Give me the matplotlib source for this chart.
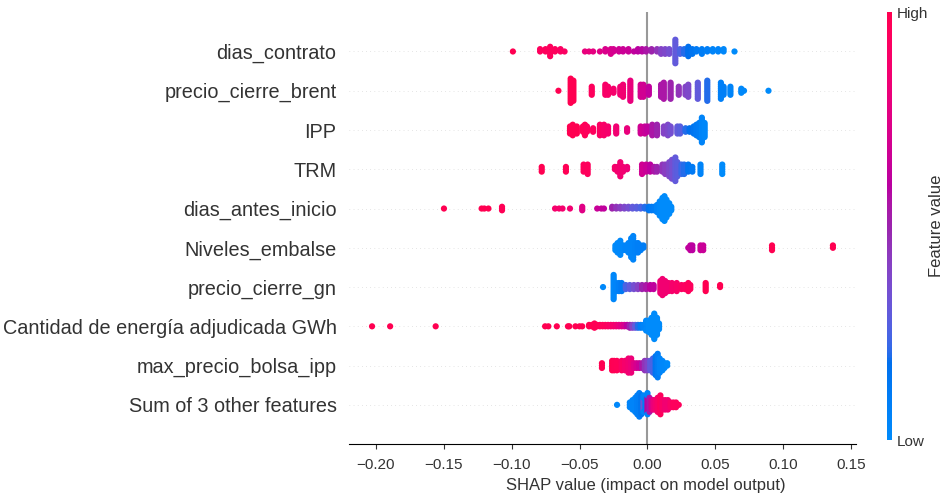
import numpy as np
import matplotlib
matplotlib.use("Agg")
import matplotlib.pyplot as plt
from matplotlib.colors import LinearSegmentedColormap

plt.rcParams["font.family"] = ["Liberation Sans", "DejaVu Sans"]

# ---------------------------------------------------------------------------
# Data: per feature, SHAP value of each group of samples, its (normalised)
# feature value 0 = low .. 1 = high, and how many samples share it.
# Features listed top to bottom as shown.
# ---------------------------------------------------------------------------

features = [
    "dias_contrato",
    "precio_cierre_brent",
    "IPP",
    "TRM",
    "dias_antes_inicio",
    "Niveles_embalse",
    "precio_cierre_gn",
    "Cantidad de energía adjudicada GWh",
    "max_precio_bolsa_ipp",
    "Sum of 3 other features",
]

dias_contrato_shap = [-0.099, -0.079, -0.075, -0.0716, -0.068, -0.064, -0.061, -0.046, -0.043,
                      -0.040, -0.035, -0.031, -0.027, -0.025, -0.021, -0.018, -0.014, -0.010,
                      -0.007, -0.004, -0.001, 0.003, 0.007, 0.010, 0.013, 0.016, 0.0205, 0.024,
                      0.027, 0.030, 0.033, 0.036, 0.040, 0.044, 0.048, 0.052, 0.056, 0.064]
dias_contrato_val = [1.0, 0.95, 0.95, 0.95, 0.95, 0.92, 0.92, 0.8, 0.8,
                     0.78, 0.75, 0.72, 0.72, 0.7, 0.68, 0.66, 0.65, 0.62,
                     0.6, 0.58, 0.55, 0.5, 0.45, 0.4, 0.38, 0.35, 0.3, 0.25,
                     0.2, 0.18, 0.15, 0.12, 0.1, 0.08, 0.05, 0.05, 0.03, 0.0]
dias_contrato_n = [1, 2, 2, 5, 2, 2, 1, 1, 1,
                   1, 1, 2, 3, 2, 2, 2, 2, 1,
                   2, 2, 2, 2, 2, 3, 3, 3, 11, 3,
                   3, 5, 3, 2, 3, 2, 2, 2, 2, 1]

brent_shap = [-0.0655, -0.0565, -0.0545, -0.041, -0.031, -0.029, -0.025, -0.020, -0.018,
              -0.0126, -0.005, -0.003, 0.001, 0.010, 0.012, 0.017, 0.023, 0.028, 0.030,
              0.037, 0.044, 0.054, 0.056, 0.061, 0.069, 0.071, 0.089]
brent_val = [1.0, 1.0, 1.0, 0.95, 0.9, 0.9, 0.88, 0.85, 0.85,
             0.8, 0.7, 0.68, 0.62, 0.55, 0.55, 0.5, 0.45, 0.4, 0.38,
             0.3, 0.2, 0.08, 0.08, 0.05, 0.02, 0.02, 0.0]
brent_n = [1, 13, 11, 5, 6, 5, 3, 5, 7,
           11, 7, 7, 5, 7, 9, 9, 5, 5, 7,
           9, 11, 9, 5, 5, 3, 1, 1]

ipp_shap = [-0.057, -0.055, -0.052, -0.0475, -0.046, -0.0445, -0.040, -0.035, -0.032, -0.029,
            -0.023, -0.015, -0.005, -0.002, 0.000, 0.0035, 0.007, 0.012, 0.015, 0.017,
            0.022, 0.024, 0.028, 0.031, 0.034, 0.036, 0.038, 0.040, 0.042]
ipp_val = [1.0, 1.0, 1.0, 0.97, 0.97, 0.95, 0.95, 0.92, 0.9, 0.88,
           0.85, 0.8, 0.68, 0.65, 0.62, 0.55, 0.5, 0.4, 0.38, 0.35,
           0.3, 0.28, 0.2, 0.18, 0.15, 0.12, 0.1, 0.05, 0.03]
ipp_n = [5, 7, 5, 4, 7, 4, 3, 7, 7, 5,
         5, 3, 5, 5, 4, 7, 7, 5, 7, 5,
         5, 5, 3, 3, 5, 7, 9, 15, 9]

trm_shap = [-0.0778, -0.060, -0.047, -0.044, -0.024, -0.022, -0.020, -0.018, -0.015,
            -0.004, -0.001, 0.002, 0.005, 0.007, 0.011, 0.013, 0.016, 0.018, 0.0205,
            0.022, 0.025, 0.027, 0.030, 0.033, 0.039, 0.055]
trm_val = [1.0, 0.98, 0.95, 0.95, 0.88, 0.87, 0.85, 0.85, 0.83,
           0.68, 0.65, 0.6, 0.55, 0.5, 0.45, 0.42, 0.38, 0.35, 0.3,
           0.28, 0.22, 0.2, 0.15, 0.12, 0.05, 0.0]
trm_n = [3, 3, 4, 5, 2, 3, 7, 3, 2,
         5, 4, 4, 3, 3, 4, 5, 7, 9, 11,
         7, 5, 5, 4, 3, 5, 5]

antes_shap = [-0.1497, -0.122, -0.120, -0.117, -0.107, -0.068, -0.065, -0.0625, -0.057,
              -0.048, -0.037, -0.034, -0.032, -0.026, -0.023, -0.020, -0.017, -0.014,
              -0.011, -0.008, -0.005, -0.002, 0.001, 0.003, 0.005, 0.007, 0.009, 0.011,
              0.0125, 0.014, 0.016, 0.0175]
antes_val = [1.0, 1.0, 1.0, 1.0, 0.98, 0.88, 0.88, 0.87, 0.85,
             0.75, 0.65, 0.63, 0.62, 0.5, 0.45, 0.42, 0.38, 0.35,
             0.3, 0.28, 0.25, 0.2, 0.15, 0.12, 0.1, 0.05, 0.02, 0.0,
             0.0, 0.0, 0.0, 0.0]
antes_n = [1, 1, 1, 1, 3, 1, 1, 1, 1,
           3, 1, 1, 1, 2, 2, 2, 2, 2,
           2, 2, 2, 2, 3, 3, 3, 5, 9, 13,
           15, 11, 7, 3]

embalse_shap = [-0.0236, -0.022, -0.020, -0.018, -0.016, -0.014, -0.012, -0.0105, -0.009,
                -0.007, -0.005, -0.003, 0.030, 0.0315, 0.033, 0.039, 0.041, 0.0916, 0.1364]
embalse_val = [0.0, 0.02, 0.02, 0.03, 0.05, 0.05, 0.05, 0.05, 0.06,
               0.08, 0.08, 0.1, 0.62, 0.62, 0.6, 0.65, 0.65, 1.0, 1.0]
embalse_n = [3, 5, 7, 3, 3, 5, 9, 11, 5,
             5, 3, 2, 1, 3, 3, 3, 3, 3, 2]

gn_shap = [-0.0327, -0.0249, -0.023, -0.021, -0.019, -0.016, -0.013, -0.010, -0.007,
           -0.004, -0.001, 0.002, 0.0045, 0.0095, 0.011, 0.013, 0.0155, 0.018, 0.0215,
           0.025, 0.0275, 0.030, 0.0315, 0.0428, 0.0534]
gn_val = [0.02, 0.03, 0.05, 0.08, 0.12, 0.25, 0.3, 0.35, 0.4,
          0.5, 0.55, 0.6, 0.62, 0.82, 0.85, 0.85, 0.85, 0.88, 0.9,
          0.92, 0.93, 0.95, 0.95, 1.0, 1.0]
gn_n = [1, 13, 5, 5, 5, 3, 3, 3, 3,
        3, 3, 3, 3, 7, 9, 7, 5, 5, 5,
        3, 3, 5, 3, 5, 2]

cantidad_shap = [-0.2026, -0.1893, -0.1558, -0.0753, -0.0729, -0.0667, -0.0585, -0.0575,
                 -0.053, -0.050, -0.048, -0.043, -0.041, -0.039, -0.037, -0.035, -0.033,
                 -0.031, -0.029, -0.027, -0.025, -0.023, -0.021, -0.019, -0.017, -0.015,
                 -0.013, -0.011, -0.009, -0.007, -0.005, -0.003, -0.001, 0.001, 0.003,
                 0.005, 0.007, 0.0085]
cantidad_val = [1.0, 1.0, 1.0, 1.0, 1.0, 1.0, 1.0, 1.0,
                1.0, 1.0, 1.0, 1.0, 1.0, 0.98, 0.98, 0.97, 0.95,
                0.95, 0.92, 0.9, 0.88, 0.85, 0.8, 0.75, 0.7, 0.6,
                0.5, 0.4, 0.3, 0.2, 0.1, 0.05, 0.02, 0.0, 0.0,
                0.0, 0.0, 0.0]
cantidad_n = [1, 1, 1, 1, 1, 1, 1, 1,
              1, 1, 1, 2, 2, 2, 2, 2, 2,
              2, 2, 2, 2, 2, 2, 2, 2, 2,
              3, 3, 3, 3, 3, 3, 5, 9, 13,
              19, 13, 5]

bolsa_shap = [-0.0335, -0.026, -0.0245, -0.0225, -0.019, -0.0165, -0.014, -0.012, -0.010,
              -0.008, -0.006, -0.004, -0.002, 0.000, 0.002, 0.004, 0.006, 0.0075, 0.009,
              0.011, 0.0125, 0.0145]
bolsa_val = [1.0, 1.0, 0.98, 0.97, 0.92, 0.88, 0.85, 0.82, 0.75,
             0.7, 0.65, 0.55, 0.45, 0.4, 0.3, 0.25, 0.15, 0.1, 0.05,
             0.03, 0.02, 0.0]
bolsa_n = [3, 5, 5, 5, 5, 5, 7, 7, 3,
           3, 3, 3, 5, 5, 5, 7, 9, 11, 7,
           5, 3, 2]

others_shap = [-0.0224, -0.013, -0.011, -0.009, -0.0075, -0.006, -0.0045, -0.003, -0.003,
               -0.0015, 0.000, 0.000, 0.0015, 0.003, 0.0045, 0.006, 0.0075, 0.0095, 0.011,
               0.013, 0.015, 0.017, 0.019, 0.021, 0.023]
others_val = [0.02, 0.05, 0.05, 0.05, 0.08, 0.1, 0.15, 0.3, 0.05,
              0.1, 0.6, 0.05, 0.55, 0.7, 0.8, 0.85, 0.9, 0.95, 0.9,
              0.85, 0.85, 0.9, 0.95, 0.95, 0.95]
others_n = [1, 3, 5, 7, 9, 11, 9, 5, 3,
            5, 7, 3, 7, 5, 5, 5, 7, 9, 5,
            5, 5, 3, 3, 3, 1]

shap_groups = [dias_contrato_shap, brent_shap, ipp_shap, trm_shap, antes_shap,
               embalse_shap, gn_shap, cantidad_shap, bolsa_shap, others_shap]
val_groups = [dias_contrato_val, brent_val, ipp_val, trm_val, antes_val,
              embalse_val, gn_val, cantidad_val, bolsa_val, others_val]
count_groups = [dias_contrato_n, brent_n, ipp_n, trm_n, antes_n,
                embalse_n, gn_n, cantidad_n, bolsa_n, others_n]


# ---------------------------------------------------------------------------
# SHAP-style red/blue colormap (LCH interpolation from blue to red)
# ---------------------------------------------------------------------------

def lch_to_rgb(l, c, h):
    a, b = c * np.cos(h), c * np.sin(h)
    fy = (l + 16) / 116
    fx, fz = fy + a / 500, fy - b / 200

    def finv(t):
        return t ** 3 if t > 6 / 29 else 3 * (6 / 29) ** 2 * (t - 4 / 29)

    xyz = np.array([0.95047 * finv(fx), finv(fy), 1.08883 * finv(fz)])
    m = np.array([[3.2406, -1.5372, -0.4986],
                  [-0.9689, 1.8758, 0.0415],
                  [0.0557, -0.2040, 1.0570]])
    lin = m @ xyz
    rgb = np.where(lin > 0.0031308, 1.055 * np.abs(lin) ** (1 / 2.4) - 0.055, 12.92 * lin)
    return np.clip(rgb, 0, 1)


def shap_red_blue():
    blue_lch = [54.0, 70.0, 4.6588]
    red_lch = [54.0, 90.0, 0.35470565 + 2 * np.pi]
    nsteps = 100
    ls = list(np.linspace(blue_lch[0], 40.0, nsteps // 2)) + list(np.linspace(40.0, red_lch[0], nsteps // 2))
    cs = np.linspace(blue_lch[1], red_lch[1], nsteps)
    hs = np.linspace(blue_lch[2], red_lch[2], nsteps)
    cols = [lch_to_rgb(l, c, h) for l, c, h in zip(ls, cs, hs)]
    return LinearSegmentedColormap.from_list("red_blue", cols)


def swarm_offsets(shaps, row_height=0.4, nbins=100):
    # stack points that fall in the same value bin, alternating above/below
    quant = np.round(nbins * (shaps - shaps.min()) / (shaps.max() - shaps.min() + 1e-8))
    inds = np.argsort(quant, kind="stable")
    ys = np.zeros(len(shaps))
    layer, last_bin = 0, -1
    for ind in inds:
        if quant[ind] != last_bin:
            layer = 0
        ys[ind] = np.ceil(layer / 2) * ((layer % 2) * 2 - 1)
        layer += 1
        last_bin = quant[ind]
    ys *= 0.9 * (row_height / np.max(ys + 1))
    return ys


cmap = shap_red_blue()
axis_color = "#333333"

fig = plt.figure(figsize=(9.43, 4.99), dpi=100)
ax = fig.add_axes([0.3701, 0.110, 0.5376, 0.8655])

n_feat = len(features)
ax.axvline(x=0, color="#999999", zorder=-1)
for i in range(n_feat):
    pos = n_feat - 1 - i
    ax.axhline(y=pos, color="#cccccc", lw=0.5, dashes=(1, 5), zorder=-1)
    shaps = np.repeat(shap_groups[i], count_groups[i]).astype(float)
    vals = np.repeat(val_groups[i], count_groups[i]).astype(float)
    ys = swarm_offsets(shaps)
    ax.scatter(shaps, pos + ys, c=vals, cmap=cmap, vmin=0, vmax=1, s=20,
               linewidth=0, alpha=1, zorder=3, rasterized=True)

ax.set_yticks(range(n_feat))
ax.set_yticklabels(features[::-1], fontsize=14.3)
ax.set_ylim(-1, n_feat)
ax.xaxis.set_ticks_position("bottom")
ax.yaxis.set_ticks_position("none")
for side in ("right", "top", "left"):
    ax.spines[side].set_visible(False)
ax.tick_params(color=axis_color, labelcolor=axis_color)
ax.tick_params("y", length=0, pad=9)
ax.tick_params("x", labelsize=11, pad=6.5)
ax.set_xlabel("SHAP value (impact on model output)", fontsize=12, color=axis_color)
ax.xaxis.set_label_coords(0.586, -0.079)
ax.xaxis.label.set_va("top")

# colour bar
cax = fig.add_axes([0.9406, 0.118, 0.0048, 0.8575])
sm = plt.cm.ScalarMappable(cmap=cmap, norm=plt.Normalize(0, 1))
cb = fig.colorbar(sm, cax=cax, ticks=[0, 1])
cb.set_ticklabels(["Low", "High"])
cb.ax.tick_params(labelsize=11, length=0, labelcolor=axis_color)
cb.set_label("Feature value", size=12, labelpad=1, color=axis_color)
cb.outline.set_visible(False)

fig.savefig("out.png", dpi=100)
